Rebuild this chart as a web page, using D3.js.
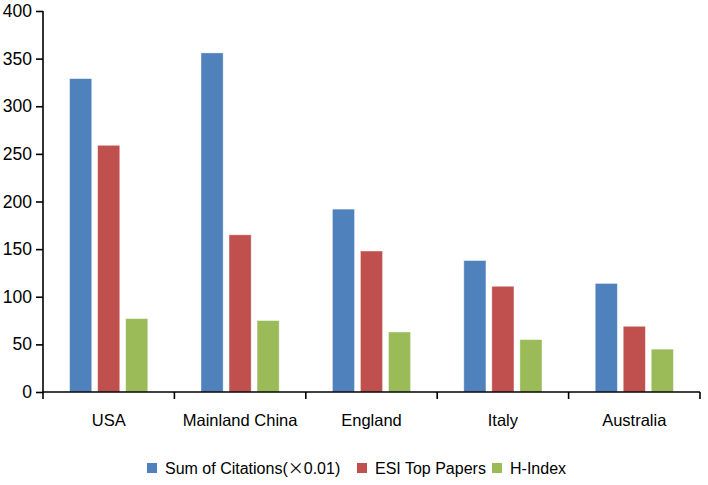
<!DOCTYPE html>
<html><head><meta charset="utf-8">
<script src="https://cdn.jsdelivr.net/npm/d3@7"></script>
<style>body{margin:0;background:#fff}svg{display:block}text{font-family:"Liberation Sans",Arial,sans-serif;fill:#000}</style>
</head><body><svg id="c" width="708" height="485"></svg>
<script>
const categories = ["USA","Mainland China","England","Italy","Australia"];
const seriesNames = ["Sum of Citations(×0.01)","ESI Top Papers","H-Index"];
const citations = [329,356,192,138,114];
const topPapers = [259,165,148,111,69];
const hIndex = [77,75,63,55,45];
const yTicks = [0,50,100,150,200,250,300,350,400];
const colors = ["#4F81BD","#C0504D","#9BBB59"];

const series = [citations, topPapers, hIndex];
const svg = d3.select("#c");
const x = d3.scaleBand().domain(categories).range([43,700]).paddingInner(0).paddingOuter(0);
const y = d3.scaleLinear().domain([0,400]).range([392,11]);
const inner = d3.scaleBand().domain([0,1,2]).range([0, x.bandwidth()]).paddingInner(0.21).paddingOuter(0.95);

const g = svg.append("g");
categories.forEach((c,i)=>{
  series.forEach((s,j)=>{
    g.append("rect")
      .attr("x", x(c)+inner(j))
      .attr("y", y(s[i]))
      .attr("width", inner.bandwidth())
      .attr("height", y(0)-y(s[i]))
      .attr("fill", colors[j])
      .attr("stroke", "rgba(255,255,255,0.5)")
      .attr("stroke-width", 0.8);
  });
});

// y axis
const ya = svg.append("g").attr("transform","translate(43,0)")
  .call(d3.axisLeft(y).tickValues(yTicks).tickSize(7).tickPadding(4).tickFormat(d3.format("d")));
ya.select(".domain").attr("d","M0,11V399").attr("stroke","#000").attr("stroke-width",1.6);
ya.selectAll(".tick line").attr("stroke","#000").attr("stroke-width",1.6);
ya.selectAll(".tick text").style("font-size","17.5px").attr("fill","#000");

// x axis
const xa = svg.append("g").attr("transform","translate(0,392)");
xa.append("line").attr("x1",43).attr("x2",700).attr("y1",0).attr("y2",0).attr("stroke","#000").attr("stroke-width",1.6);
categories.forEach((c,i)=>{
  if(i>0) xa.append("line").attr("x1",x(c)).attr("x2",x(c)).attr("y1",0).attr("y2",7).attr("stroke","#000").attr("stroke-width",1.6);
  xa.append("text").attr("x",x(c)+x.bandwidth()/2).attr("y",34).attr("text-anchor","middle").style("font-size","16.5px").text(c);
});
xa.append("line").attr("x1",700).attr("x2",700).attr("y1",0).attr("y2",7).attr("stroke","#000").attr("stroke-width",1.6);

// legend
const legX = [147,357,492];
const leg = svg.append("g");
seriesNames.forEach((n,j)=>{
  leg.append("rect").attr("x",legX[j]).attr("y",463).attr("width",10).attr("height",10).attr("fill",colors[j]);
  const t = leg.append("text").attr("x",legX[j]+18).attr("y",474).style("font-size","16px");
  if(n.includes("×")){
    const parts = n.split("×");
    t.append("tspan").text(parts[0]);
    t.append("tspan").style("font-family","'Noto Sans CJK SC'").text("×");
    t.append("tspan").text(parts[1]);
  } else t.text(n);
});
</script></body></html>
